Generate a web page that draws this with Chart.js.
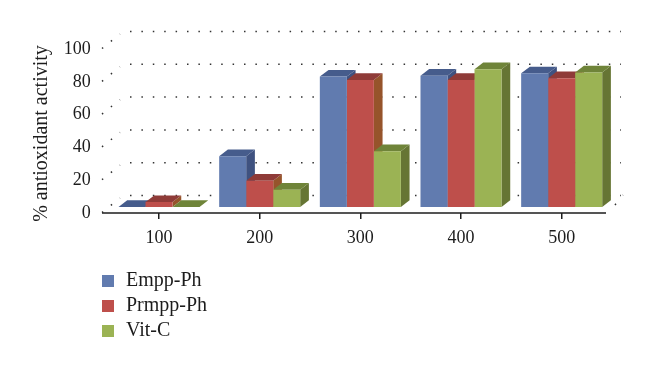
<!DOCTYPE html>
<html>
<head>
<meta charset="utf-8">
<style>html,body{margin:0;padding:0;background:#fff}#wrap{width:660px;height:369px}</style>
<script src="https://cdn.jsdelivr.net/npm/chart.js@4"></script>
</head>
<body>
<div id="wrap"><canvas id="c" width="660" height="369"></canvas></div>
<script>
const categories = ['100', '200', '300', '400', '500'];
const yTicks = [0, 20, 40, 60, 80, 100];
const empp = [0, 31, 79.5, 80, 81.5];
const prmpp = [3, 16, 77.5, 77.5, 78.5];
const vitc = [0, 10.5, 34, 84, 82];
const seriesNames = ['Empp-Ph', 'Prmpp-Ph', 'Vit-C'];
const frontColors = ['#617BAF', '#BE4F4B', '#9BB354'];
const topColors = ['#465C8C', '#8F3B38', '#6F8439'];
const sideColors = ['#3F5280', '#96542B', '#667534'];

const DX = 8.7, DY = 6.7;
const FONT = 'Liberation Serif';
const INK = '#1c1c1c';

const depthPlugin = {
  id: 'depth',
  afterLayout(chart) {
    const lg = chart.legend;
    lg.left = 95; lg.right = 215; lg.top = 266; lg.bottom = 350;
    lg.adjustHitBoxes();
    const s = chart.scales.y;
    if (!s._titleShifted) {
      const d = s.drawTitle;
      s.drawTitle = function () {
        this.top += 5.5; this.bottom += 5.5;
        d.call(this);
        this.top -= 5.5; this.bottom -= 5.5;
      };
      s._titleShifted = true;
    }
  },
  beforeDatasetsDraw(chart) {
    const ctx = chart.ctx, y = chart.scales.y, a = chart.chartArea;
    ctx.save();
    ctx.strokeStyle = '#333';
    ctx.lineWidth = 1.5;
    ctx.setLineDash([1.5, 9.9]);
    const xL = a.left - 6.7, xM = a.left + 11.3, xB = a.left + 21.3, xR = a.right + 9;
    yTicks.forEach(v => {
      const p = y.getPixelForValue(v);
      ctx.beginPath();
      ctx.moveTo(xL, p + 5.5);
      ctx.lineTo(xM, p - 9);
      ctx.stroke();
      ctx.beginPath();
      ctx.moveTo(xB, p - 11.5);
      ctx.lineTo(xR, p - 11.5);
      ctx.stroke();
    });
    const p0 = y.getPixelForValue(0);
    ctx.beginPath();
    ctx.moveTo(a.right + 3, p0 - 2);
    ctx.lineTo(a.right + 11, p0 - 12);
    ctx.setLineDash([1.5, 11]);
    ctx.stroke();
    ctx.setLineDash([]);
    // axis line
    ctx.strokeStyle = INK;
    ctx.lineWidth = 1.5;
    ctx.beginPath();
    ctx.moveTo(a.left - 6.7, a.bottom);
    ctx.lineTo(a.right - 6, a.bottom);
    ctx.stroke();
    // side and top faces of every bar, left series first; fronts are drawn later by the library
    chart.data.datasets.forEach((ds, i) => {
      chart.getDatasetMeta(i).data.forEach(el => {
        const { x, y: t, base, width } = el.getProps(['x', 'y', 'base', 'width'], true);
        const l = x - width / 2, r = x + width / 2;
        ctx.fillStyle = sideColors[i];
        ctx.beginPath();
        ctx.moveTo(r, t); ctx.lineTo(r + DX, t - DY); ctx.lineTo(r + DX, base - DY); ctx.lineTo(r, base);
        ctx.closePath(); ctx.fill();
        ctx.fillStyle = topColors[i];
        ctx.beginPath();
        ctx.moveTo(l, t); ctx.lineTo(l + DX, t - DY); ctx.lineTo(r + DX, t - DY); ctx.lineTo(r, t);
        ctx.closePath(); ctx.fill();
      });
    });
    ctx.restore();
  }
};

new Chart(document.getElementById('c'), {
  type: 'bar',
  data: {
    labels: categories,
    datasets: [empp, prmpp, vitc].map((d, i) => ({
      label: seriesNames[i],
      data: d,
      backgroundColor: frontColors[i],
      borderWidth: 0,
      categoryPercentage: 0.805,
      barPercentage: 1
    }))
  },
  plugins: [depthPlugin],
  options: {
    responsive: false,
    animation: false,
    layout: { padding: { left: -70.3, right: 48, top: 43, bottom: 121 } },
    plugins: {
      tooltip: { enabled: false },
      title: { display: false },
      legend: {
        display: true,
        position: 'left',
        align: 'start',
        maxWidth: 100,
        labels: {
          boxWidth: 16,
          boxHeight: 16,
          padding: 5,
          color: INK,
          font: { family: FONT, size: 20 },
          generateLabels(chart) {
            return Chart.defaults.plugins.legend.labels.generateLabels(chart)
              .map(l => ({ ...l, strokeStyle: '#fff', lineWidth: 4 }));
          }
        }
      }
    },
    scales: {
      x: {
        type: 'category',
        offset: true,
        afterFit(s) { s.height = 35; },
        grid: { drawOnChartArea: false, offset: false, tickLength: 6, color: INK, lineWidth: 1.5 },
        border: { display: false },
        ticks: { color: INK, padding: 8, maxRotation: 0, font: { family: FONT, size: 18 } }
      },
      y: {
        type: 'linear',
        min: -3.66,
        max: 100,
        afterBuildTicks(s) { s.ticks = yTicks.map(v => ({ value: v })); },
        afterFit(s) { s.width = 79; },
        grid: { display: false, drawTicks: false },
        border: { display: false },
        ticks: { color: INK, padding: 18, labelOffset: 6, font: { family: FONT, size: 18 } },
        title: { display: true, text: '% antioxidant activity', color: INK, padding: 0, font: { family: FONT, size: 20 } }
      }
    }
  }
});
</script>
</body>
</html>
